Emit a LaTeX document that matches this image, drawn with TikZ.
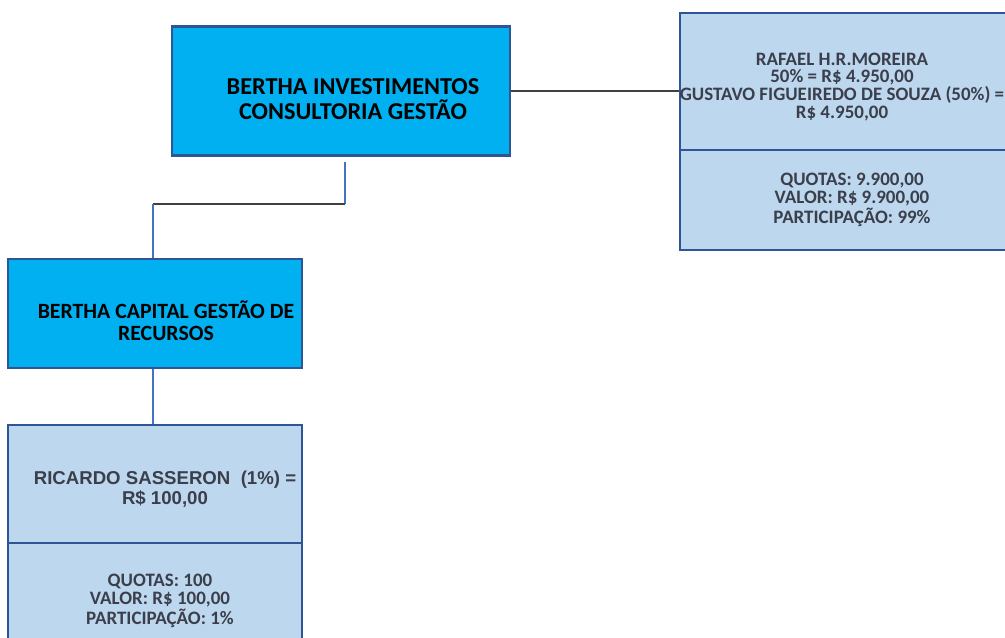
\documentclass[tikz,border=0pt]{standalone}
\usepackage{fontspec}
\setmainfont{Carlito}
\newfontfamily\arialfont{Liberation Sans}
\definecolor{firmblue}{HTML}{00B0F0}
\definecolor{cotablue}{HTML}{BDD7EE}
\definecolor{boxline}{HTML}{2F5597}
\definecolor{txtgray}{HTML}{3B3F4B}
\definecolor{linkblue}{HTML}{4472C4}
\definecolor{linkgray}{HTML}{404040}
\begin{document}
\begin{tikzpicture}[
x=0.02cm, y=-0.02cm,
firm/.style={rectangle, draw=boxline, line width=1.6pt, fill=firmblue, inner sep=0pt},
cota/.style={rectangle, draw=boxline, line width=1.6pt, fill=cotablue, inner sep=0pt},
firmtxt/.style={align=center, text=black, font=\bfseries\fontsize{13.8}{14.2}\selectfont},
captxt/.style={align=center, text=black, font=\bfseries\fontsize{12.4}{12.5}\selectfont},
cotatxt/.style={align=center, text=txtgray, font=\bfseries\fontsize{10.8}{10.2}\selectfont},
arialtxt/.style={align=center, text=txtgray, font=\arialfont\bfseries\fontsize{10.6}{10}\selectfont},
vline/.style={draw=linkblue, line width=0.6pt},
hline/.style={draw=linkgray, line width=0.9pt},
]
\useasboundingbox (0,0) rectangle (1005,637);
\clip (0,0) rectangle (1005,637);

% Holding at the top
\node[firm, minimum width=6.76cm, minimum height=2.58cm] (invest) at (341,91) {};
\node[firmtxt] (investTxt) at (353,99) {BERTHA INVESTIMENTOS\\CONSULTORIA GEST\~AO};

% Partners of the holding
\node[cota, minimum width=6.6cm, minimum height=2.74cm] (socios) at (845,81.5) {};
\node[cotatxt] (sociosTxt) at (842,87) {RAFAEL H.R.MOREIRA\\50\% = R\$ 4.950,00\\GUSTAVO FIGUEIREDO DE SOUZA (50\%) =\\R\$ 4.950,00};
\node[cota, minimum width=6.6cm, minimum height=2cm] (cotas1) at (845,200) {};
\node[cotatxt] (cotas1Txt) at (852,200) {QUOTAS: 9.900,00\\VALOR: R\$ 9.900,00\\PARTICIPA\c{C}\~AO: 99\%};

% Asset manager
\node[firm, minimum width=5.88cm, minimum height=2.18cm] (capital) at (155,313.5) {};
\node[captxt] (capitalTxt) at (166,321) {BERTHA CAPITAL GEST\~AO DE\\RECURSOS};

% Minority partner
\node[cota, minimum width=5.88cm, minimum height=2.36cm] (ricardo) at (155,484) {};
\node[arialtxt] (ricardoTxt) at (165,489) {RICARDO SASSERON\ \ (1\%) =\\R\$ 100,00};
\node[cota, minimum width=5.88cm, minimum height=2.14cm] (cotas2) at (155,596.5) {};
\node[cotatxt] (cotas2Txt) at (160,601) {QUOTAS: 100\\VALOR: R\$ 100,00\\PARTICIPA\c{C}\~AO: 1\%};

% Connectors
\coordinate (j1) at (345,204);
\coordinate (j2) at (153,204);
\draw[hline] (invest.east) -- (invest.east -| socios.west);
\draw[vline, shorten <=2.8pt] (invest.south -| j1) -- (j1);
\draw[hline] (j1) -- (j2);
\draw[vline] (j2) -- (j2 |- capital.north);
\draw[vline] (capital.south -| j2) -- (ricardo.north -| j2);

\end{tikzpicture}
\end{document}
